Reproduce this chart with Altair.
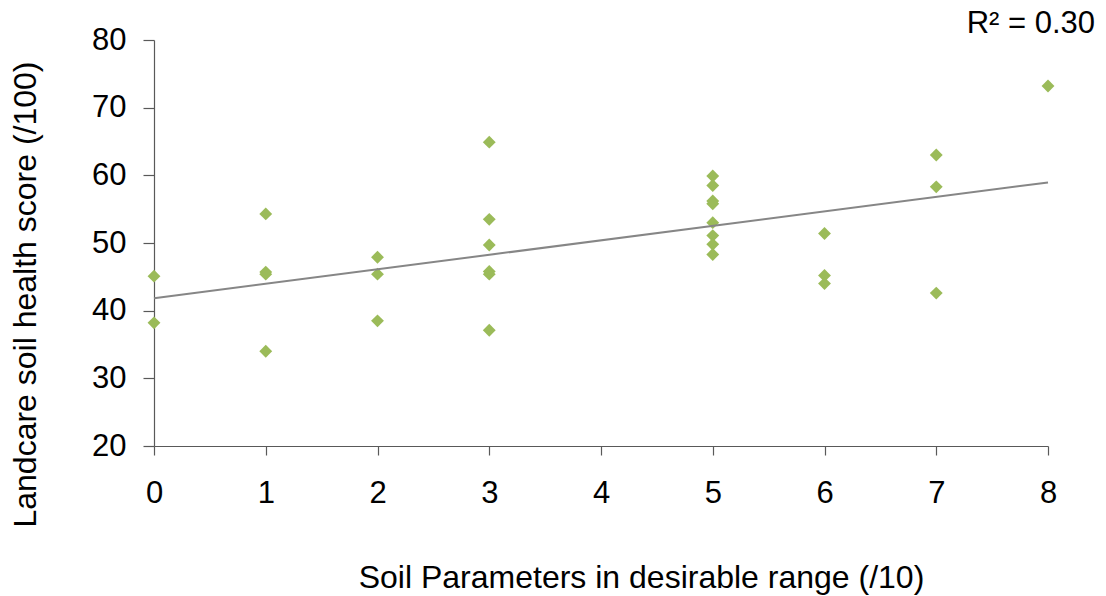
import altair as alt
import pandas as pd

params = [0, 0,
          1, 1, 1, 1,
          2, 2, 2,
          3, 3, 3, 3, 3, 3,
          5, 5, 5, 5, 5, 5, 5, 5,
          6, 6, 6,
          7, 7, 7,
          8]
scores = [45.1, 38.2,
          54.3, 45.7, 45.4, 34.0,
          47.9, 45.4, 38.5,
          64.9, 53.5, 49.7, 45.8, 45.4, 37.1,
          59.9, 58.5, 56.2, 55.8, 53.0, 51.1, 49.8, 48.3,
          51.4, 45.2, 44.0,
          63.0, 58.3, 42.6,
          73.2]
r2_label = ["R² = 0.30"]

df = pd.DataFrame({"x": params, "y": scores})

FONT = "Liberation Sans"
FS = 31
TFS = 32

xscale = alt.Scale(domain=[0, 8], nice=False, zero=False)
yscale = alt.Scale(domain=[20, 80], nice=False, zero=False)

xaxis = alt.Axis(
    values=list(range(0, 9)), format="d", title="Soil Parameters in desirable range (/10)",
    grid=False, tickSize=9, labelPadding=23, labelFontSize=FS, labelFont=FONT,
    labelFlush=False, labelOverlap=False,
    labelColor="#000000", titleFont=FONT, titleFontSize=TFS, titleFontWeight="normal",
    titleColor="#000000", titleX=487, titleY=131, titleBaseline="middle",
    titleAlign="center", domainColor="#595959", tickColor="#595959",
    domainWidth=1.2, tickWidth=1.2,
)
yaxis = alt.Axis(
    values=[20, 30, 40, 50, 60, 70, 80], format="d", title="Landcare soil health score (/100)",
    grid=False, tickSize=11, labelPadding=17, labelFontSize=FS, labelFont=FONT,
    labelFlush=False, labelOverlap=False,
    labelColor="#000000", titleFont=FONT, titleFontSize=TFS, titleFontWeight="normal",
    titleColor="#000000", titleX=-129, titleY=254, titleBaseline="middle",
    titleAlign="center", titleAngle=270, domainColor="#595959", tickColor="#595959",
    domainWidth=1.2, tickWidth=1.2,
)

points = alt.Chart(df).mark_point(
    shape="diamond", filled=True, size=165, color="#9BBB59", opacity=1
).encode(
    x=alt.X("x:Q", scale=xscale, axis=xaxis),
    y=alt.Y("y:Q", scale=yscale, axis=yaxis),
)

trend = alt.Chart(df).transform_regression(
    "x", "y", extent=[0, 8]
).mark_line(color="#868686", strokeWidth=2).encode(
    x=alt.X("x:Q", scale=xscale),
    y=alt.Y("y:Q", scale=yscale),
)

label = alt.Chart(pd.DataFrame({"t": r2_label})).mark_text(
    font=FONT, fontSize=FS, color="#000000", align="right", baseline="middle"
).encode(
    text="t:N",
    x=alt.value(941),
    y=alt.value(-16),
)

chart = alt.layer(points, trend, label).properties(
    width=894, height=406,
    padding={"left": 154, "top": 40, "right": 58, "bottom": 150},
    autosize=alt.AutoSizeParams(type="none"),
    background="#ffffff",
).configure_view(stroke=None)

chart.save("out.html", embed_options={"renderer": "svg", "actions": False})
